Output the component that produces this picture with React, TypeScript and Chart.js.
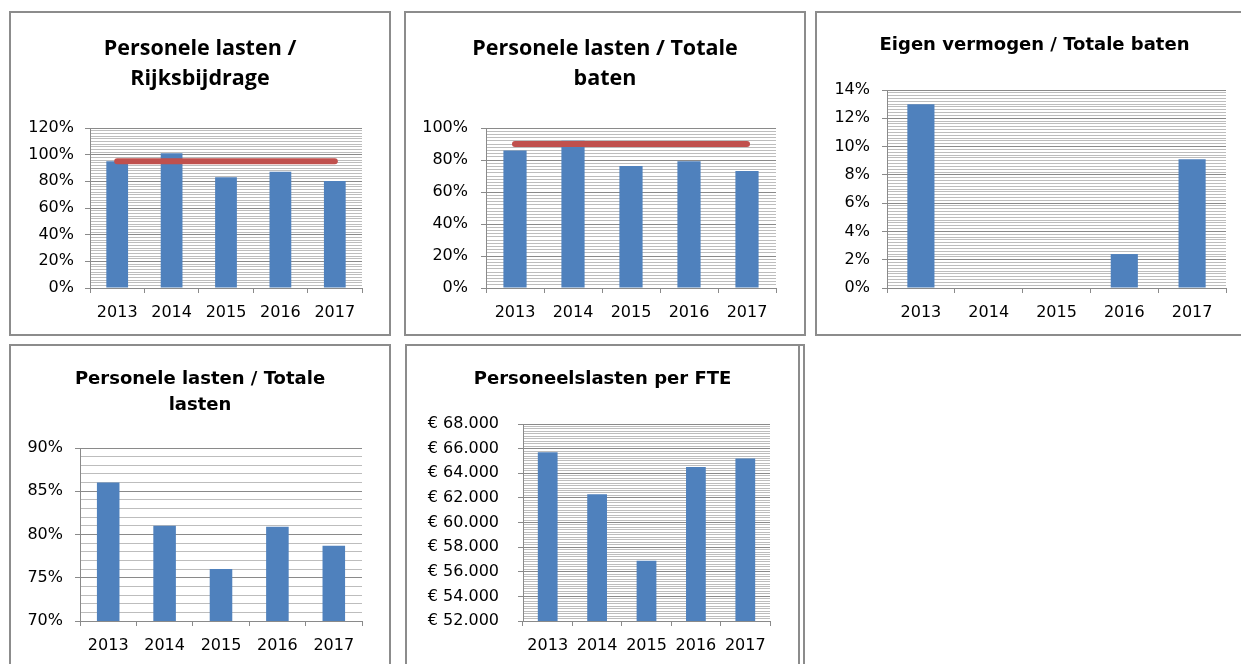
import React, { useEffect, useRef } from 'react';
import { Chart, registerables } from 'chart.js';

Chart.register(...registerables);

// ---------- data ----------
const years = ['2013', '2014', '2015', '2016', '2017'];

const personeelRijksbijdrage = [95, 101, 83, 87.2, 80.2];
const normRijksbijdrage = [95, 95, 95, 95, 95];
const rijksTicks = [0, 20, 40, 60, 80, 100, 120];

const personeelBaten = [86, 92, 76.3, 79.2, 73.2];
const normBaten = [90, 90, 90, 90, 90];
const batenTicks = [0, 20, 40, 60, 80, 100];

const eigenVermogenBaten = [13.0, 0, 0, 2.4, 9.1];
const vermogenTicks = [0, 2, 4, 6, 8, 10, 12, 14];

const personeelLasten = [86.0, 81.0, 76.0, 80.9, 78.7];
const lastenTicks = [70, 75, 80, 85, 90];

const lastenPerFte = [65700, 62300, 56900, 64500, 65200];
const fteTicks = [52000, 54000, 56000, 58000, 60000, 62000, 64000, 66000, 68000];

// ---------- styling ----------
const BAR = '#4f81bd';
const RED = '#c0504d';
const MAJOR = '#8a8a8a';
const MINOR = '#bdbdbd';
const FRAME = '#8c8c8c';

const pct = (v: number) => `${Math.round(v)}%`;
const euro = (v: number) => {
  const r = Math.round(v);
  const th = Math.floor(r / 1000);
  const rest = String(r % 1000).padStart(3, '0');
  return `€ ${th}.${rest}`;
};

type Rect = { left: number; top: number; right: number; bottom: number };
type PanelCfg = {
  frame: Rect;
  box: Rect;
  plot: Rect;
  title: string[];
  titleFont: string;
  titleSize: number;
  titleLH: number;
  titleFirstCenter: number;
  values: number[];
  norm?: number[];
  majors: number[];
  minor: number;
  fmt: (v: number) => string;
  yPad: number;
  extraLine?: number;
};

const panels: PanelCfg[] = [
  {
    frame: { left: 9, top: 11, right: 391, bottom: 336 },
    box: { left: 9, top: 11, right: 391, bottom: 336 },
    plot: { left: 90, top: 128, right: 362, bottom: 288 },
    title: ['Personele lasten /', 'Rijksbijdrage'],
    titleFont: 'Open Sans',
    titleSize: 21.5,
    titleLH: 30,
    titleFirstCenter: 49,
    values: personeelRijksbijdrage,
    norm: normRijksbijdrage,
    majors: rijksTicks,
    minor: 2,
    fmt: pct,
    yPad: 11,
  },
  {
    frame: { left: 404, top: 11, right: 806, bottom: 336 },
    box: { left: 404, top: 11, right: 806, bottom: 336 },
    plot: { left: 486, top: 128, right: 776, bottom: 288 },
    title: ['Personele lasten / Totale', 'baten'],
    titleFont: 'Open Sans',
    titleSize: 21.5,
    titleLH: 30,
    titleFirstCenter: 49,
    values: personeelBaten,
    norm: normBaten,
    majors: batenTicks,
    minor: 2,
    fmt: pct,
    yPad: 13,
  },
  {
    frame: { left: 815, top: 11, right: 1300, bottom: 336 },
    box: { left: 815, top: 11, right: 1254, bottom: 336 },
    plot: { left: 887, top: 90, right: 1226, bottom: 288 },
    title: ['Eigen vermogen / Totale baten'],
    titleFont: 'DejaVu Sans',
    titleSize: 18,
    titleLH: 21,
    titleFirstCenter: 45.5,
    values: eigenVermogenBaten,
    majors: vermogenTicks,
    minor: 0.2,
    fmt: pct,
    yPad: 12,
  },
  {
    frame: { left: 9, top: 344, right: 391, bottom: 700 },
    box: { left: 9, top: 344, right: 391, bottom: 700 },
    plot: { left: 80, top: 448, right: 362, bottom: 621 },
    title: ['Personele lasten / Totale', 'lasten'],
    titleFont: 'DejaVu Sans',
    titleSize: 18,
    titleLH: 26,
    titleFirstCenter: 379.5,
    values: personeelLasten,
    majors: lastenTicks,
    minor: 1,
    fmt: pct,
    yPad: 12,
  },
  {
    frame: { left: 405, top: 344, right: 805, bottom: 700 },
    box: { left: 405, top: 344, right: 800, bottom: 700 },
    plot: { left: 523, top: 424, right: 770, bottom: 621 },
    title: ['Personeelslasten per FTE'],
    titleFont: 'DejaVu Sans',
    titleSize: 18,
    titleLH: 21,
    titleFirstCenter: 379,
    values: lastenPerFte,
    majors: fteTicks,
    minor: 200,
    fmt: euro,
    yPad: 19,
    extraLine: 798,
  },
];

function buildConfig(c: PanelCfg): any {
  const { box, plot } = c;
  const rightWidth = box.right - plot.right;
  const yWidth = plot.left - box.left;
  const xHeight = box.bottom - plot.bottom;
  const titleBlock = plot.top - box.top;
  const padTop = c.titleFirstCenter - box.top - c.titleLH / 2;
  const padBottom = titleBlock - padTop - c.titleLH * c.title.length;
  const isMajor = (v: number) => c.majors.some((m) => Math.abs(m - v) < c.minor / 100);
  const min = c.majors[0];
  const max = c.majors[c.majors.length - 1];

  const datasets: any[] = [];
  if (c.norm) {
    datasets.push({
      type: 'line',
      data: c.norm,
      borderColor: RED,
      borderWidth: 6,
      borderCapStyle: 'round',
      pointRadius: 0,
      fill: false,
      order: 0,
    });
  }
  datasets.push({
    type: 'bar',
    data: c.values,
    backgroundColor: BAR,
    borderWidth: 0,
    barPercentage: 0.4,
    categoryPercentage: 1,
    order: 1,
  });

  return {
    type: 'bar',
    data: { labels: years, datasets },
    options: {
      responsive: false,
      maintainAspectRatio: false,
      animation: false,
      layout: { padding: 0 },
      plugins: {
        legend: { display: false },
        tooltip: { enabled: false },
        title: {
          display: true,
          text: c.title,
          color: '#000',
          font: { family: c.titleFont, size: c.titleSize, weight: 'bold', lineHeight: c.titleLH / c.titleSize },
          padding: { top: padTop, bottom: padBottom },
        },
      },
      scales: {
        x: {
          type: 'category',
          offset: true,
          grid: {
            display: true,
            drawOnChartArea: false,
            drawTicks: true,
            tickLength: 5,
            color: MAJOR,
            offset: true,
          },
          border: { display: true, color: MAJOR, width: 1 },
          ticks: {
            color: '#000',
            font: { family: 'DejaVu Sans', size: 16 },
            padding: 10,
            maxRotation: 0,
            autoSkip: false,
          },
          afterFit: (s: any) => {
            s.height = xHeight;
          },
        },
        y: {
          type: 'linear',
          position: 'left',
          min,
          max,
          grid: {
            color: (ctx: any) => (ctx.tick && isMajor(ctx.tick.value) ? MAJOR : MINOR),
            tickColor: (ctx: any) => (ctx.tick && isMajor(ctx.tick.value) ? MAJOR : 'rgba(0,0,0,0)'),
            tickLength: 5,
            lineWidth: 1,
          },
          border: { display: true, color: MAJOR, width: 1 },
          ticks: {
            stepSize: c.minor,
            autoSkip: false,
            color: '#000',
            padding: c.yPad,
            font: { family: 'DejaVu Sans', size: 16 },
            callback: (v: any) => (isMajor(Number(v)) ? c.fmt(Number(v)) : ''),
          },
          afterFit: (s: any) => {
            s.width = yWidth;
          },
        },
        spacer: {
          type: 'linear',
          position: 'right',
          display: true,
          grid: { display: false, drawTicks: false },
          border: { display: false },
          ticks: { display: false },
          afterFit: (s: any) => {
            s.width = rightWidth;
          },
        },
      },
    },
  };
}

function Panel({ cfg }: { cfg: PanelCfg }) {
  const ref = useRef<HTMLCanvasElement | null>(null);
  useEffect(() => {
    if (!ref.current) return;
    const chart = new Chart(ref.current, buildConfig(cfg));
    return () => chart.destroy();
  }, [cfg]);
  const { box, frame } = cfg;
  const w = box.right - box.left;
  const h = box.bottom - box.top;
  return (
    <>
      <canvas
        ref={ref}
        width={w}
        height={h}
        style={{ position: 'absolute', left: box.left, top: box.top, width: w, height: h, display: 'block' }}
      />
      <div
        style={{
          position: 'absolute',
          left: frame.left,
          top: frame.top,
          width: frame.right - frame.left,
          height: frame.bottom - frame.top,
          border: `2px solid ${FRAME}`,
          boxSizing: 'border-box',
          pointerEvents: 'none',
        }}
      />
      {cfg.extraLine !== undefined && (
        <div
          style={{
            position: 'absolute',
            left: cfg.extraLine,
            top: frame.top,
            width: 2,
            height: frame.bottom - frame.top,
            background: FRAME,
            pointerEvents: 'none',
          }}
        />
      )}
    </>
  );
}

export default function App() {
  return (
    <div
      style={{
        position: 'absolute',
        left: 0,
        top: 0,
        width: 1241,
        height: 664,
        overflow: 'hidden',
        background: '#fff',
      }}
    >
      {panels.map((p, i) => (
        <Panel key={i} cfg={p} />
      ))}
    </div>
  );
}
